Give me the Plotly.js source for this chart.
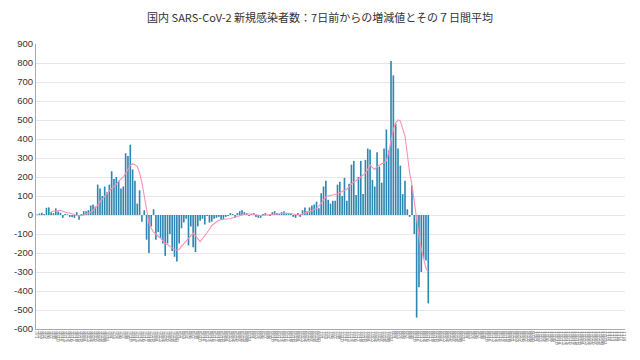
<!DOCTYPE html>
<html><head><meta charset="utf-8">
<script src="https://cdn.plot.ly/plotly-3.0.1.min.js"></script>
<style>html,body{margin:0;padding:0;background:#fff}#c{width:640px;height:360px}</style>
</head><body><div id="c"></div>
<script>
// axis months covered (Mar 1 – Nov 8, 2020)
const monthNums = [3,4,5,6,7,8,9,10,11];
const monthDays = [31,30,31,30,31,31,30,31,8];
const categories = [];
monthNums.forEach((m,k)=>{ for(let d=1; d<=monthDays[k]; d++) categories.push(m+'/'+d); });

// 7日前からの増減値 (from 3/1)
const diffValues = [
 3,8,12,5,38,40,15,10,35,18,12,-15,5,3,-10,-12,-15,15,-25,5,
 20,20,25,50,55,45,160,140,100,150,120,160,230,190,200,180,140,150,325,310,
 370,240,180,60,130,-35,25,-130,-200,-60,30,-130,-90,-120,-150,-215,-150,-100,-190,-220,
 -245,-150,-70,-40,-20,-160,-60,-170,-195,-60,-30,-20,-50,-5,-40,-35,-20,-15,-10,-25,
 -20,-10,-5,10,5,-15,10,20,25,15,10,-5,5,10,-10,-15,-15,5,10,0,
 -5,15,20,10,5,15,20,10,5,5,-10,-15,10,-10,25,40,20,40,50,55,
 70,35,115,150,180,80,60,75,75,160,175,100,195,75,165,265,285,105,200,285,
 110,290,350,345,185,150,330,255,170,350,450,340,810,735,480,350,260,110,180,30,
 -10,155,-100,-540,-380,-300,-230,-240,-465
];
// 7日間平均 (from 3/7)
const avgStart = 6;
const avgValues = [
 18,20,22,25,25,20,15,12,10,5,0,-3,-5,-3,0,5,10,15,25,35,
 50,70,85,100,110,125,140,150,165,180,190,200,220,240,260,270,265,255,220,170,
 100,30,-40,-70,-90,-100,-110,-120,-135,-150,-155,-165,-175,-180,-185,-180,-165,-150,-135,-120,
 -105,-95,-110,-125,-140,-125,-110,-95,-75,-55,-45,-35,-28,-25,-22,-20,-20,-18,-15,-12,
 -10,-5,0,5,5,8,5,3,0,-2,-3,-2,0,0,2,3,5,5,5,8,
 10,10,10,8,5,2,0,2,5,10,15,18,22,28,35,45,60,80,95,100,
 102,105,108,112,118,122,128,135,150,165,175,180,190,200,210,220,240,265,250,240,
 255,265,270,275,285,330,400,450,485,500,495,450,415,320,220,160,60,-40,-110,-180,
 -230,-280,-300
];
const yTicks = [-600,-500,-400,-300,-200,-100,0,100,200,300,400,500,600,700,800,900];

const barX = categories.slice(0, diffValues.length);
const lineX = categories.slice(avgStart, avgStart + avgValues.length);

const data = [
 {type:'bar', x:barX, y:diffValues, marker:{color:'#2f86b3'}, hoverinfo:'skip'},
 {type:'scatter', mode:'lines', x:lineX, y:avgValues, line:{color:'#ff90b5', width:1.1}, hoverinfo:'skip'}
];
const layout = {
 width:640, height:360, showlegend:false,
 paper_bgcolor:'#fff', plot_bgcolor:'#fff',
 margin:{l:36, r:15, t:44, b:31},
 bargap:0.3,
 font:{family:'"Noto Sans CJK JP", "Noto Sans", sans-serif', color:'#333'},
 title:{text:'国内 SARS-CoV-2 新規感染者数：7日前からの増減値とその７日間平均', x:0.5, xanchor:'center', y:0.95, yanchor:'middle', font:{size:11, color:'#333'}},
 xaxis:{type:'category', categoryarray:categories, categoryorder:'array', range:[-0.5, categories.length-0.5],
   tickmode:'array', tickvals:categories, ticktext:categories, tickangle:90,
   tickfont:{size:5.5, color:'#888', family:'"Liberation Sans", sans-serif'},
   showline:true, linecolor:'#aaa', linewidth:1, showgrid:false, ticks:'', zeroline:false, automargin:false},
 yaxis:{range:[-600,900], tickmode:'array', tickvals:yTicks, ticktext:yTicks.map(String),
   tickfont:{size:9.5, color:'#333', family:'"Liberation Sans", sans-serif'},
   showgrid:true, gridcolor:'#e6e6e6', gridwidth:1, zeroline:false,
   showline:true, linecolor:'#aaa', linewidth:1, ticks:'', automargin:false}
};
Plotly.newPlot('c', data, layout, {staticPlot:true, displayModeBar:false});
</script></body></html>
